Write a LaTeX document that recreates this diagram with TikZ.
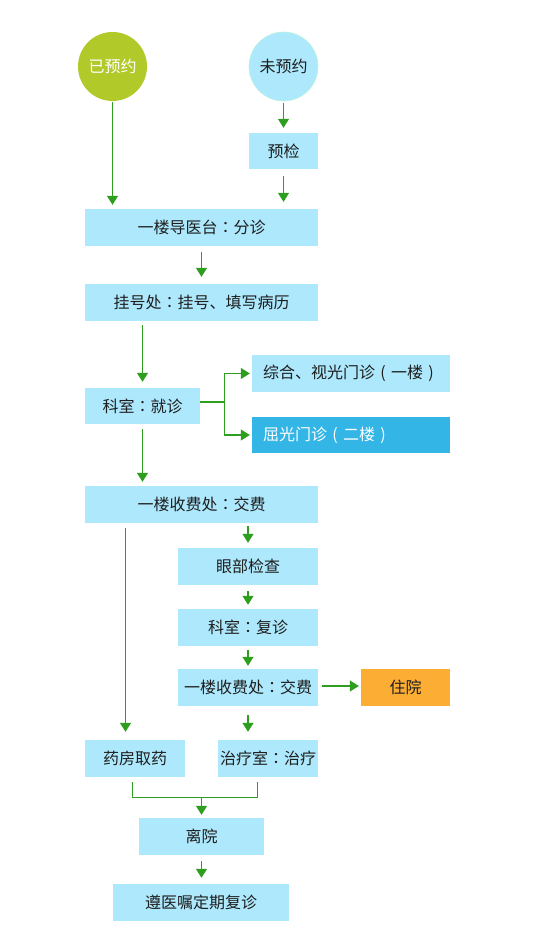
\documentclass[tikz,border=0pt]{standalone}
\usepackage{fontspec}
\setmainfont{Noto Sans CJK SC}
\newfontfamily\tcf{Noto Sans CJK TC}
\newcommand{\cln}{{\tcf ：}}
\newcommand{\lpr}{\makebox[1em]{(}}
\newcommand{\rpr}{\makebox[1em]{)}}
\usetikzlibrary{arrows.meta,calc}
\definecolor{lb}{RGB}{173,232,252}
\definecolor{db}{RGB}{51,181,230}
\definecolor{gc}{RGB}{178,201,42}
\definecolor{og}{RGB}{252,173,51}
\definecolor{ag}{RGB}{46,158,30}
\definecolor{tx}{RGB}{30,30,30}
\begin{document}
\begin{tikzpicture}[x=1pt,y=-1pt,
  font=\fontsize{16}{18}\selectfont,
  bx/.style={fill=lb,inner sep=0pt,text=tx,minimum height=37pt},
  circ/.style={circle,inner sep=0pt,minimum size=69pt},
  arr/.style={draw=ag,line width=1.2pt,-{Triangle[width=11pt,length=9pt]}},
  ln/.style={draw=ag,line width=1.2pt}]
\useasboundingbox (0,0) rectangle (549,933);
\node[circ,fill=gc,text=white] (yy) at (112.5,66.5) {已预约};
\node[circ,fill=lb,draw=lb!80!green!60!white,line width=0.6pt,text=tx] (wy) at (283.5,66.5) {未预约};
\node[bx,minimum width=69pt,minimum height=36pt] (yj) at (283.5,151) {预检};
\node[bx,minimum width=233pt] (dy) at (201.5,227.5) {一楼导医台\cln 分诊};
\node[bx,minimum width=233pt] (gh) at (201.5,302.5) {挂号处\cln 挂号、填写病历};
\node[bx,minimum width=115pt,minimum height=36pt] (jz) at (142.5,406) {科室\cln 就诊};
\node[bx,minimum width=198pt,text width=176pt,align=left] (zh) at (351,373.5) {综合、视光门诊\lpr 一楼\rpr};
\node[bx,fill=db,text=white,minimum width=198pt,minimum height=36pt,text width=176pt,align=left] (qg) at (351,435) {屈光门诊\lpr 二楼\rpr};
\node[bx,minimum width=233pt] (sf1) at (201.5,504.5) {一楼收费处\cln 交费};
\node[bx,minimum width=140pt] (yb) at (248,566.5) {眼部检查};
\node[bx,minimum width=140pt] (fz) at (248,627.5) {科室\cln 复诊};
\node[bx,minimum width=140pt] (sf2) at (248,687.5) {一楼收费处\cln 交费};
\node[bx,fill=og,minimum width=89pt] (zy) at (405.5,687.5) {住院};
\node[bx,minimum width=100pt] (yf) at (135,758.5) {药房取药};
\node[bx,minimum width=100pt] (zl) at (268,758.5) {治疗室\cln 治疗};
\node[bx,minimum width=125pt] (ly) at (201.5,836.5) {离院};
\node[bx,minimum width=176pt] (fzq) at (201,902.5) {遵医嘱定期复诊};
% connectors
\draw[arr,shorten <=1pt,shorten >=4pt] (yy.south) -- (yy.south |- dy.north);
\draw[arr,shorten <=2pt,shorten >=5pt] (wy.south) -- (yj.north);
\draw[arr,shorten <=7pt,shorten >=7pt] (yj.south) -- (yj.south |- dy.north);
\draw[arr,shorten <=6pt,shorten >=7pt] (dy.south) -- (gh.north);
\draw[arr,shorten <=4pt,shorten >=6pt] (gh.south -| jz.south) -- (jz.north);
\draw[ln] ($(jz.east)+(0,-4)$) -- ++(24,0) coordinate (b1);
\draw[arr,shorten >=2pt] (b1) |- (zh.west);
\draw[arr,shorten >=2pt] (b1) |- (qg.west);
\draw[arr,shorten <=5pt,shorten >=4pt] (jz.south) -- (jz.south |- sf1.north);
\coordinate (s1) at ($(sf1.south west)+(40.7,0)$);
\draw[arr,shorten <=5pt,shorten >=8pt] (s1) -- (s1 |- yf.north);
\draw[arr,shorten <=3pt,shorten >=5pt] (yb.north |- sf1.south) -- (yb.north);
\draw[arr,shorten <=6pt,shorten >=4pt] (yb.south) -- (fz.north);
\draw[arr,shorten <=4pt,shorten >=3pt] (fz.south) -- (sf2.north);
\draw[arr,shorten <=4pt,shorten >=2pt] ($(sf2.east)+(0,-1.5)$) -- ($(zy.west)+(0,-1.5)$);
\draw[arr,shorten <=9pt,shorten >=8pt] (sf2.south) -- (sf2.south |- zl.north);
\coordinate (m1) at ($(yf.south west)+(48,5)$);
\coordinate (m2) at ($(zl.south west)+(40,5)$);
\draw[ln] (m1) -- ++(0,15) coordinate (m1b) -| (m2);
\coordinate (m0) at ($(m1b)!0.5!(m1b -| m2)$);
\draw[arr,shorten >=3pt] (m0 -| ly.north) -- (ly.north);
\draw[arr,shorten <=6pt,shorten >=6pt] (ly.south) -- (ly.south |- fzq.north);
\end{tikzpicture}
\end{document}
